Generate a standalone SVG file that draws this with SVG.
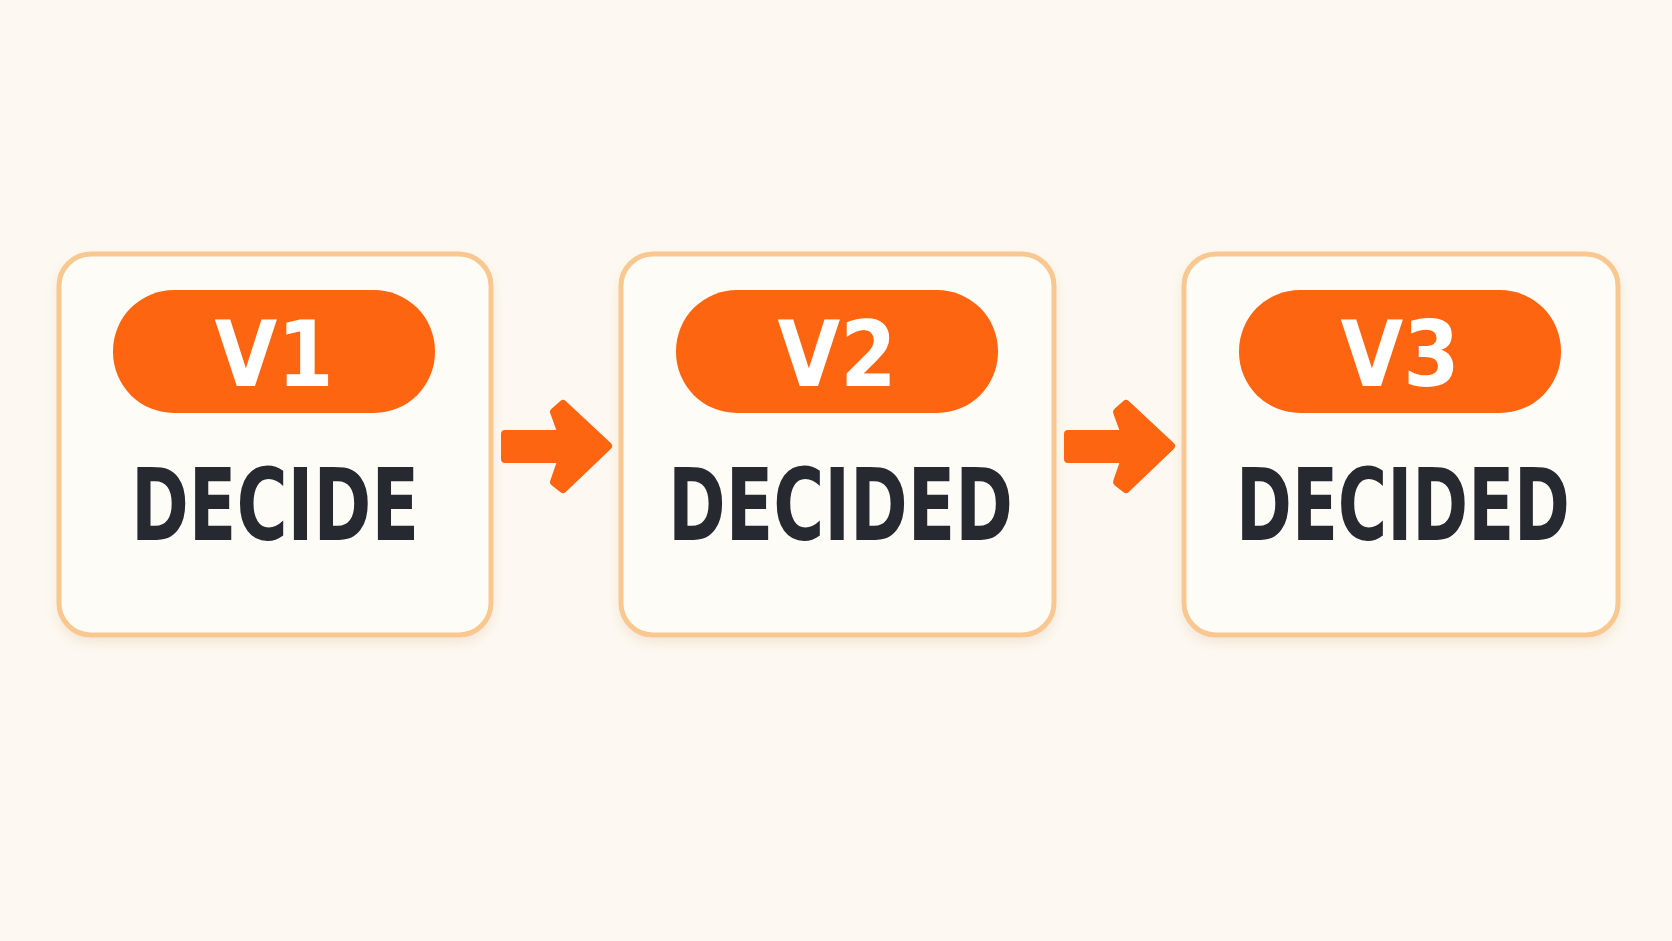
<svg xmlns="http://www.w3.org/2000/svg" width="1672" height="941" viewBox="0 0 1672 941">
<defs>
<style>
.box{fill:#fefcf7;stroke:#f9c890;stroke-width:5}
.pill{fill:#fd6511}
.ver{font-family:"DejaVu Sans Condensed","DejaVu Sans",sans-serif;font-weight:bold;font-size:90px;fill:#fff;text-anchor:middle}
.word{font-family:"DejaVu Sans Condensed","DejaVu Sans",sans-serif;font-weight:bold;font-size:100px;fill:#262a30}
.arr{fill:#fd6511;stroke:#fd6511;stroke-width:8;stroke-linejoin:round}
</style>
<filter id="sh" x="-10%" y="-10%" width="120%" height="130%"><feDropShadow dx="0" dy="6" stdDeviation="6" flood-color="#c08040" flood-opacity="0.15"/></filter>
</defs>
<rect width="1672" height="941" fill="#fdf9f2"/>
<g id="node1">
<rect class="box" x="59" y="254" width="432" height="381" rx="32" filter="url(#sh)"/>
<rect class="pill" x="113" y="290" width="322" height="123" rx="61"/>
<text class="ver" x="274" y="386">V1</text>
<text class="word" x="131" y="540" textLength="288" lengthAdjust="spacingAndGlyphs">DECIDE</text>
</g>
<g id="node2">
<rect class="box" x="621" y="254" width="433" height="381" rx="32" filter="url(#sh)"/>
<rect class="pill" x="676" y="290" width="322" height="123" rx="61"/>
<text class="ver" x="837" y="386">V2</text>
<text class="word" x="668" y="540" textLength="345" lengthAdjust="spacingAndGlyphs">DECIDED</text>
</g>
<g id="node3">
<rect class="box" x="1184" y="254" width="434" height="381" rx="32" filter="url(#sh)"/>
<rect class="pill" x="1239" y="290" width="322" height="123" rx="61"/>
<text class="ver" x="1400" y="386">V3</text>
<text class="word" x="1236" y="540" textLength="334" lengthAdjust="spacingAndGlyphs">DECIDED</text>
</g>
<g id="connectors">
<path class="arr" d="M505 434 H562 L554 412 L563 404 L608 446 L563 489 L554 482 L562 459 H505 Z"/>
<path class="arr" d="M1068 434 H1125 L1117 412 L1126 404 L1171 446 L1126 489 L1117 482 L1125 459 H1068 Z"/>
</g>
</svg>
